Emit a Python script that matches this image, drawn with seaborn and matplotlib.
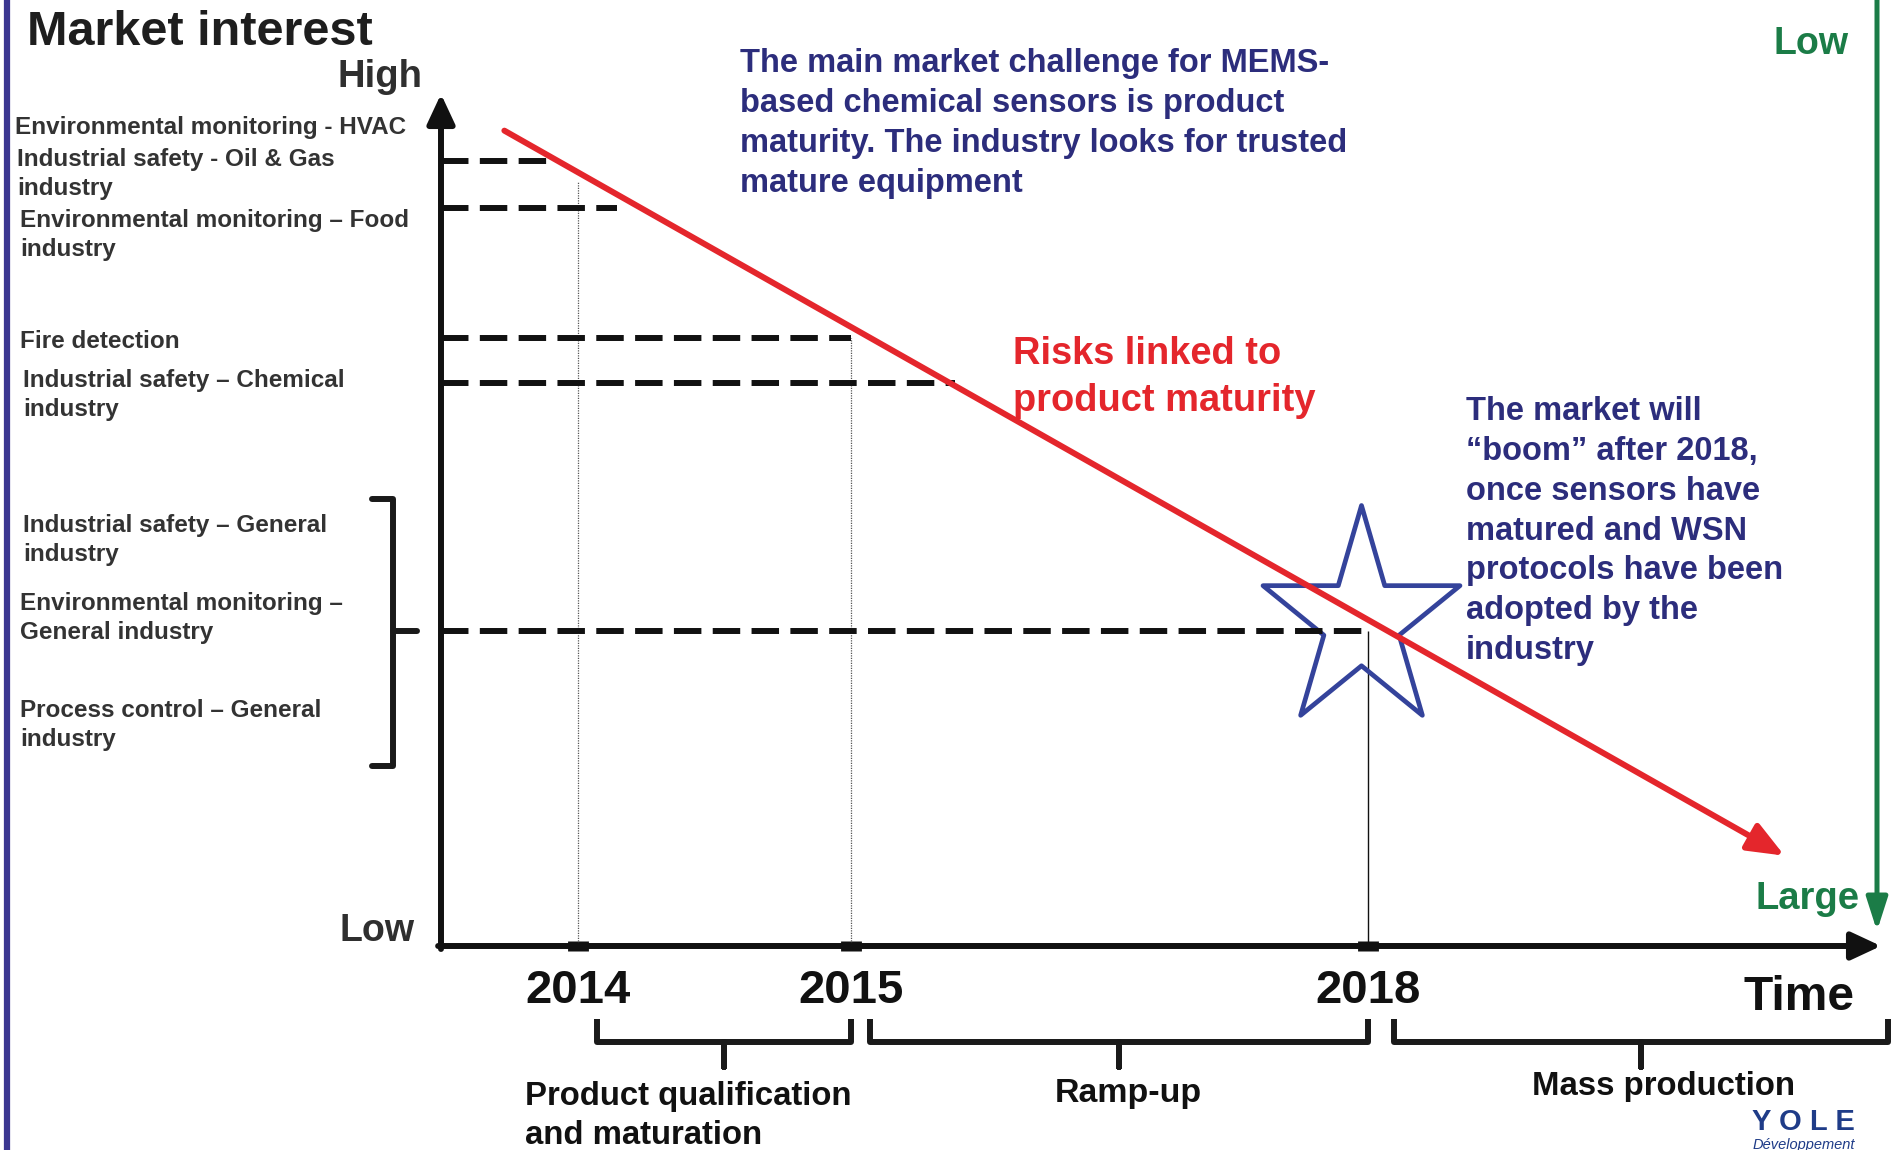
import numpy as np
import pandas as pd
import matplotlib
matplotlib.use("Agg")
import matplotlib.pyplot as plt
import seaborn as sns
from matplotlib.lines import Line2D
from matplotlib.path import Path
from matplotlib import transforms

# ------------------------------------------------------------------ data
years = ["2014", "2015", "2018"]
year_time = [9.5, 28.5, 64.4]            # schematic (non-linear) time axis, 0-100

segments = ["HVAC / Oil & Gas", "Food industry", "Fire detection",
            "Chemical industry", "General industry"]
interest_level = [92.1, 86.6, 71.4, 66.1, 37.0]   # market interest, 0-100
adoption_time = [8.0, 12.2, 28.5, 35.7, 64.4]     # time where the line meets risk

guide_top = [89.8, 71.4, 37.0]           # vertical guides from the year ticks

risk_time = [4.4, 93.3]                  # red "risk" trend
risk_level = [95.7, 10.6]

boom_time = [63.9]                       # star: market boom
boom_level = [38.1]

phases = ["Product qualification\nand maturation", "Ramp-up", "Mass production"]
phase_start = [10.8, 29.8, 66.2]
phase_end = [28.5, 64.4, 100.5]

app_labels = [
    "Environmental monitoring - HVAC",
    "Industrial safety - Oil & Gas\nindustry",
    "Environmental monitoring \u2013 Food\nindustry",
    "Fire detection",
    "Industrial safety \u2013 Chemical\nindustry",
    "Industrial safety \u2013 General\nindustry",
    "Environmental monitoring \u2013\nGeneral industry",
    "Process control \u2013 General\nindustry",
]

# ------------------------------------------------------------------ style
sns.set_theme(style="white")
plt.rcParams["font.family"] = ["Liberation Sans", "DejaVu Sans"]
plt.rcParams["font.weight"] = "bold"

RED = "#e4262c"
NAVY = "#2c2d7c"
GREEN = "#1b7c47"
STAR = "#34439b"
DARK = "#2f2f2f"
BLACK = "#111111"

W, H = 1895, 1150
fig = plt.figure(figsize=(W / 100, H / 100), dpi=100)
fig.patch.set_facecolor("white")


def fx(x):
    return x / W


def fy(y):
    return 1 - y / H


def ftxt(x, y, s, step=0.0, **kw):
    """Place text so that the FIRST line's baseline sits at pixel y."""
    kw.setdefault("va", "baseline")
    kw.setdefault("fontweight", "bold")
    y_last = y + step * s.count("\n")
    return fig.text(fx(x), fy(y_last), s, **kw)


ax = fig.add_axes([fx(441), fy(946), fx(1881) - fx(441), fy(94) - fy(946)])
ax.set_xlim(0, 100)
ax.set_ylim(0, 100)
ax.set_facecolor("none")
for sp in ax.spines.values():
    sp.set_visible(False)

# dashed interest levels (seaborn, one unit per segment)
rows = []
for seg, lev, t in zip(segments, interest_level, adoption_time):
    rows.append({"time": 0.0, "interest": lev, "segment": seg})
    rows.append({"time": t, "interest": lev, "segment": seg})
df = pd.DataFrame(rows)
n0 = len(ax.lines)
sns.lineplot(data=df, x="time", y="interest", units="segment", estimator=None,
             sort=False, color=BLACK, lw=4.3, ax=ax, legend=False, zorder=3)
for ln in ax.lines[n0:]:
    ln.set_dashes((4.6, 1.9))
    ln.set_solid_capstyle("butt")
    ln.set_dash_capstyle("butt")

# vertical guides at the years
ax.vlines(year_time[:2], 0, guide_top[:2], colors="#555555", lw=0.9,
          linestyles=(0, (1, 1)), zorder=2)
ax.vlines(year_time[2:], 0, guide_top[2:], colors=BLACK, lw=1.0, zorder=2)

# star
t = np.pi / 2 + np.arange(10) * np.pi / 5
r = np.where(np.arange(10) % 2 == 0, 1.0, 0.382)
verts = np.column_stack([r * np.cos(t), r * np.sin(t) * 1.12])
verts = np.vstack([verts, verts[:1]])
star = Path(verts, closed=True)
ax.plot(boom_time, boom_level, linestyle="none", marker=star, ms=167,
        mfc="none", mec=STAR, mew=3.4, zorder=2, clip_on=False)

# red risk arrow
ax.annotate("", xy=(risk_time[1], risk_level[1]), xytext=(risk_time[0], risk_level[0]),
            arrowprops=dict(arrowstyle="-|>,head_length=1.1,head_width=0.45",
                            mutation_scale=20, lw=4.3, color=RED,
                            shrinkA=0, shrinkB=0),
            annotation_clip=False, zorder=5)

# axes arrows
axis_arrow = dict(arrowstyle="-|>,head_length=0.9,head_width=0.42",
                  mutation_scale=20, lw=4.3, color=BLACK, shrinkA=0, shrinkB=0)
ax.annotate("", xy=(100, 0), xytext=(-0.2, 0), arrowprops=axis_arrow,
            annotation_clip=False, zorder=6)
ax.annotate("", xy=(0, 100), xytext=(0, -0.35), arrowprops=axis_arrow,
            annotation_clip=False, zorder=6)

# year ticks
ax.set_xticks(year_time)
ax.set_xticklabels(years, fontsize=34, fontweight="bold", color=BLACK)
ax.tick_params(axis="x", direction="inout", length=7.5, width=15, color=BLACK,
               pad=13, bottom=True)
ax.set_yticks([])
ax.set_xlabel("")
ax.set_ylabel("")

# phase brackets under the time axis
btr = transforms.blended_transform_factory(ax.transData, fig.transFigure)
for s, e in zip(phase_start, phase_end):
    m = (s + e) / 2
    xs = [s, s, m, m, m, e, e]
    ys = [fy(1019), fy(1042), fy(1042), fy(1067), fy(1042), fy(1042), fy(1019)]
    ax.add_line(Line2D(xs, ys, transform=btr, color="#1a1a1a", lw=4.3,
                       solid_joinstyle="round", solid_capstyle="butt", clip_on=False))

# left bracket grouping the general-industry applications
fig.add_artist(Line2D([fx(372), fx(393), fx(393), fx(372)],
                      [fy(499), fy(499), fy(766), fy(766)],
                      color="#1a1a1a", lw=4.3, solid_joinstyle="round"))
fig.add_artist(Line2D([fx(393), fx(417)], [fy(631), fy(631)],
                      color="#1a1a1a", lw=4.3))

# frame line on the left
fig.add_artist(Line2D([fx(7), fx(7)], [0, 1], color="#3b3791", lw=4.5))

# green market-size arrow
fig.add_artist(matplotlib.patches.FancyArrowPatch(
    (fx(1877), 1.01), (fx(1877), fy(931)), transform=fig.transFigure,
    arrowstyle="-|>,head_length=1.0,head_width=0.32", mutation_scale=20,
    lw=3.6, color=GREEN, shrinkA=0, shrinkB=0))

# ------------------------------------------------------------------ texts
ftxt(27, 45, "Market interest", fontsize=35, color="#1e1e1e")
ftxt(423, 87, "High", fontsize=27.5, color=DARK, ha="right")
ftxt(415, 941, "Low", fontsize=27, color=DARK, ha="right")

label_xy = [(15, 134), (17, 165), (20, 226), (20, 348), (23, 386),
            (23, 531), (20, 609), (20, 716)]
for (x, y), s in zip(label_xy, app_labels):
    ftxt(x, y, s, step=30.2, fontsize=17.5, color="#333333", linespacing=1.37)

ftxt(740, 72,
     "The main market challenge for MEMS-\nbased chemical sensors is product\n"
     "maturity. The industry looks for trusted\nmature equipment",
     step=39.9, fontsize=23.5, color=NAVY, linespacing=1.37)

ftxt(1013, 364, "Risks linked to\nproduct maturity", step=47.1, fontsize=27.4,
     color=RED, linespacing=1.4)

ftxt(1466, 421,
     "The market will\n\u201cboom\u201d after 2018,\nonce sensors have\nmatured and WSN\n"
     "protocols have been\nadopted by the\nindustry",
     step=39.7, fontsize=23.5, color=NAVY, linespacing=1.37)

ftxt(1849, 54, "Low", fontsize=27, color=GREEN, ha="right")
ftxt(1859, 909, "Large", fontsize=27.5, color=GREEN, ha="right")
ftxt(1855, 1010, "Time", fontsize=34.5, color=BLACK, ha="right")

ftxt(525, 1105, phases[0], step=38.7, fontsize=23.7, color=BLACK, linespacing=1.3)
ftxt(1128, 1102, phases[1], fontsize=24.4, color=BLACK, ha="center")
ftxt(1663, 1095, phases[2], fontsize=23.7, color=BLACK, ha="center")

ftxt(1855, 1130, "Y O L E", fontsize=21, color="#1f3c88", ha="right")
ftxt(1855, 1149, "D\u00e9veloppement", fontsize=10.5, color="#1f3c88",
     ha="right", fontstyle="italic", fontweight="normal")

fig.savefig("out.png", dpi=100, facecolor="white")
